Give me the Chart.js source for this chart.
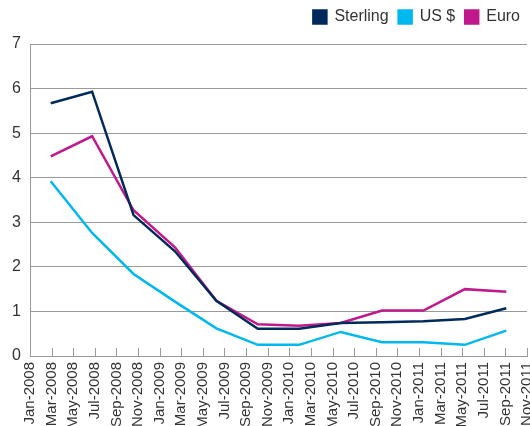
<!DOCTYPE html>
<html lang="en">
<head>
  <meta charset="UTF-8" />
  <title>Sterling, US $ and Euro</title>
  <script src="https://cdn.jsdelivr.net/npm/chart.js"></script>
</head>
<style>
    body {
      margin: 0;
      background: #fff;
    }
    #grafico {
      width: 530px !important;
      height: 426px !important;
    }
  </style>
<body>
  <canvas id="grafico" width="530" height="426"></canvas>
  <script>
    // axis labels shown under the chart (every 2 months)
    const axisLabels = [
      'Jan-2008', 'Mar-2008', 'May-2008', 'Jul-2008', 'Sep-2008', 'Nov-2008',
      'Jan-2009', 'Mar-2009', 'May-2009', 'Jul-2009', 'Sep-2009', 'Nov-2009',
      'Jan-2010', 'Mar-2010', 'May-2010', 'Jul-2010', 'Sep-2010', 'Nov-2010',
      'Jan-2011', 'Mar-2011', 'May-2011', 'Jul-2011', 'Sep-2011', 'Nov-2011'
    ];
    // the 12 observations the lines are drawn through
    const periods = ['P1', 'P2', 'P3', 'P4', 'P5', 'P6', 'P7', 'P8', 'P9', 'P10', 'P11', 'P12'];

    const sterling = [5.67, 5.93, 3.16, 2.35, 1.24, 0.61, 0.61, 0.74, 0.76, 0.78, 0.83, 1.07];
    const usDollar = [3.92, 2.76, 1.84, 1.22, 0.62, 0.25, 0.25, 0.54, 0.31, 0.31, 0.25, 0.57];
    const euro     = [4.48, 4.93, 3.27, 2.44, 1.24, 0.71, 0.68, 0.74, 1.02, 1.02, 1.50, 1.44];

    const yTicks = [0, 1, 2, 3, 4, 5, 6, 7];

    const FONT = "'Liberation Sans', sans-serif";
    const GRAY = '#9a9a9a';

    // little tick marks pointing up into the plot, like the original
    const insideTicks = {
      id: 'insideTicks',
      afterDatasetsDraw(chart) {
        const s = chart.scales.x;
        const ctx = chart.ctx;
        ctx.save();
        ctx.strokeStyle = GRAY;
        ctx.lineWidth = 1;
        s.ticks.forEach((t, i) => {
          const x = Math.round(s.getPixelForTick(i)) + 0.5;
          ctx.beginPath();
          ctx.moveTo(x, s.top);
          ctx.lineTo(x, s.top - 8);
          ctx.stroke();
        });
        ctx.restore();
      }
    };

    // extra room under the legend
    const legendGap = {
      id: 'legendGap',
      beforeLayout(chart) {
        const lg = chart.legend;
        if (!lg || lg._gapPatched) return;
        const fit = lg.fit.bind(lg);
        lg.fit = () => { fit(); lg.height += 9; };
        lg._gapPatched = true;
      }
    };

    const ctx = document.getElementById('grafico').getContext('2d');
    new Chart(ctx, {
      type: 'line',
      data: {
        labels: periods,
        datasets: [
          { label: 'Sterling', data: sterling, borderColor: '#002a5c', backgroundColor: '#002a5c' },
          { label: 'US $', data: usDollar, borderColor: '#00b8f0', backgroundColor: '#00b8f0' },
          { label: 'Euro', data: euro, borderColor: '#c0198c', backgroundColor: '#c0198c' }
        ].map(d => Object.assign(d, { xAxisID: 'q', borderWidth: 2.5, pointRadius: 0, tension: 0 }))
      },
      options: {
        responsive: false,
        animation: false,
        layout: { padding: { top: -1, right: 0, left: 0, bottom: 0 } },
        plugins: {
          legend: {
            position: 'top',
            align: 'end',
            labels: {
              boxWidth: 13,
              boxHeight: 13,
              padding: 10,
              color: '#333',
              font: { family: FONT, size: 16 }
            }
          },
          tooltip: { enabled: false }
        },
        scales: {
          q: {
            type: 'category',
            labels: periods,
            offset: true,
            display: false
          },
          x: {
            type: 'category',
            labels: axisLabels,
            min: 0,
            max: axisLabels.length - 1,
            offset: false,
            grid: { display: false, drawTicks: false },
            border: { display: true, color: GRAY, width: 1 },
            ticks: {
              autoSkip: false,
              minRotation: 90,
              maxRotation: 90,
              padding: 6,
              color: '#333',
              font: { family: FONT, size: 15 }
            },
            afterFit(s) { s.height = 70; s.paddingRight = 3; s.paddingLeft = 0; }
          },
          y: {
            min: 0,
            max: 7,
            afterBuildTicks(s) { s.ticks = yTicks.map(v => ({ value: v })); },
            grid: { color: GRAY, lineWidth: 1, drawTicks: false },
            border: { display: true, color: GRAY, width: 1 },
            ticks: {
              padding: 9,
              color: '#333',
              font: { family: FONT, size: 16 }
            },
            afterFit(s) { s.width = 30; }
          }
        }
      },
      plugins: [insideTicks, legendGap]
    });
  </script>
</body>
</html>
